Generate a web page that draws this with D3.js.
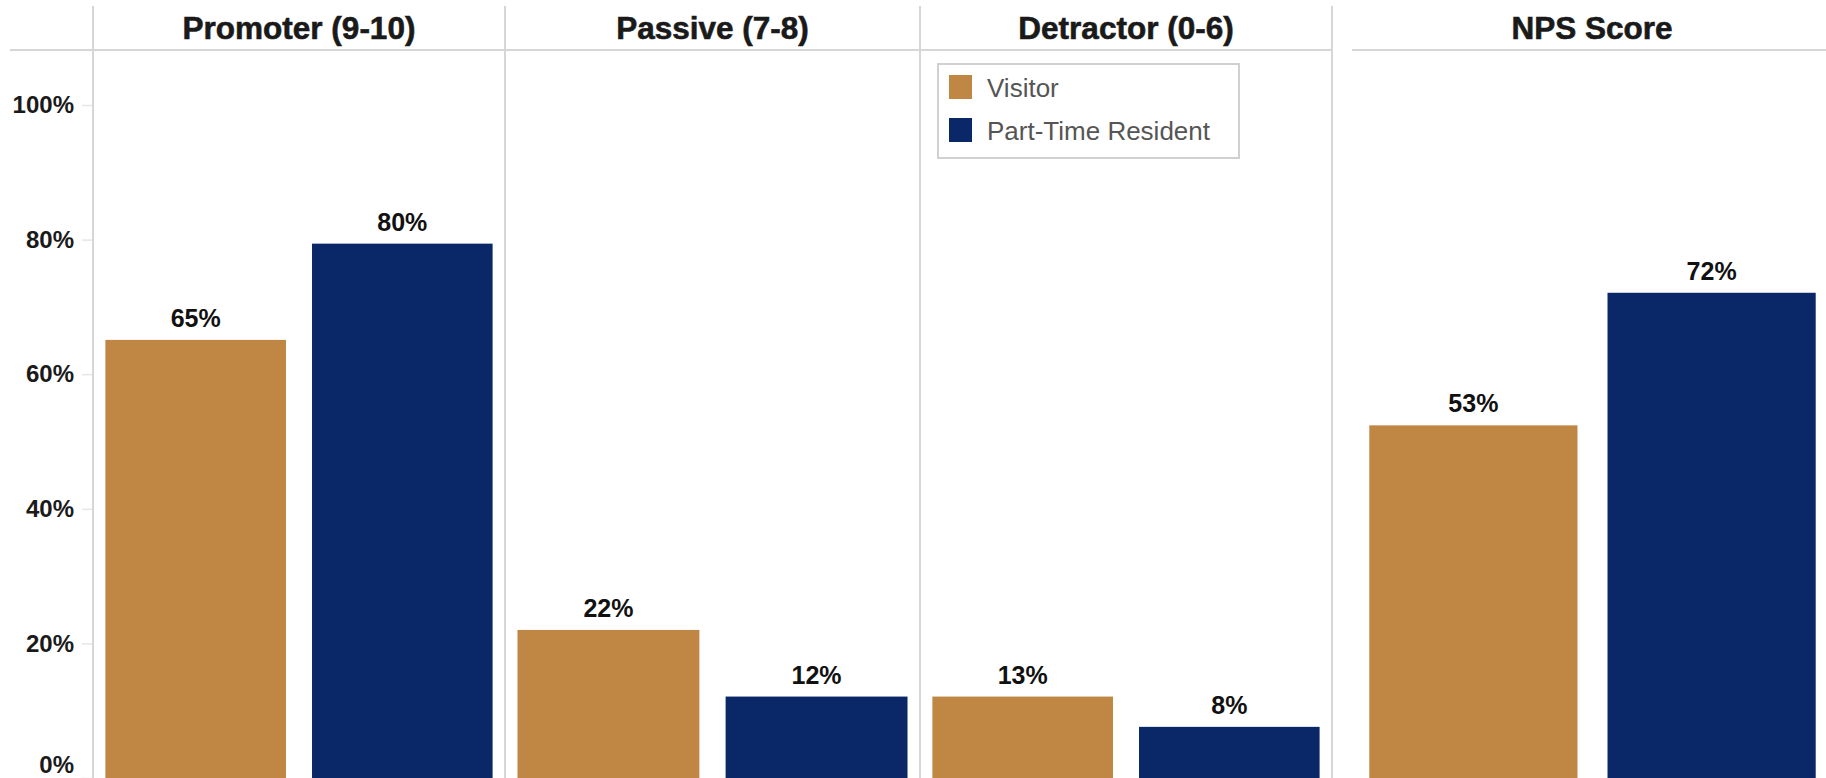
<!DOCTYPE html>
<html lang="en">
<head>
<meta charset="UTF-8">
<title>NPS by Respondent Type</title>
<script src="https://cdn.jsdelivr.net/npm/d3@7"></script>
<style>
  html, body { margin: 0; padding: 0; background: #fff; }
  svg { display: block; font-family: "Liberation Sans", Arial, sans-serif; }
</style>
</head>
<body>
<svg id="chart" width="1826" height="778"></svg>
<script>
// data
const categories = ["Promoter (9-10)", "Passive (7-8)", "Detractor (0-6)", "NPS Score"];
const groups = ["Visitor", "Part-Time Resident"];
const visitorValues = [65.1, 22.0, 12.1, 52.4];
const residentValues = [79.4, 12.1, 7.6, 72.1];
const visitorLabels = ["65%", "22%", "13%", "53%"];
const residentLabels = ["80%", "12%", "8%", "72%"];
const yTicks = [0, 20, 40, 60, 80, 100];
const yTickLabels = ["0%", "20%", "40%", "60%", "80%", "100%"];

const colors = { "Visitor": "#bf8743", "Part-Time Resident": "#0a2868" };
const gridColor = "#d6d6d6";

const svg = d3.select("#chart");
const width = +svg.attr("width");
const height = +svg.attr("height");

const headerTop = 6, headerBottom = 50;

// panel extents (last panel is a separate block with its own header rule)
const panels = [[93, 505], [505, 920], [920, 1332], [1355, 1830]];

const y = d3.scaleLinear().domain([0, 100]).range([778, 105]);

// header + panel separators
const lines = svg.append("g").attr("stroke", gridColor).attr("stroke-width", 2);
lines.append("line").attr("x1", 10).attr("x2", 1332).attr("y1", headerBottom).attr("y2", headerBottom);
lines.append("line").attr("x1", 1352).attr("x2", width).attr("y1", headerBottom).attr("y2", headerBottom);
[93, 505, 920, 1332].forEach(x => {
  lines.append("line").attr("x1", x).attr("x2", x).attr("y1", headerTop).attr("y2", height);
});

// y axis
const yAxis = d3.axisLeft(y)
  .tickValues(yTicks)
  .tickFormat((d, i) => yTickLabels[i])
  .tickSize(10)
  .tickPadding(8);

const ax = svg.append("g")
  .attr("transform", "translate(92,0)")
  .call(yAxis);
ax.select(".domain").remove();
ax.selectAll(".tick line").attr("stroke", "#e6e6e6").attr("stroke-width", 1.5);
ax.selectAll(".tick text")
  .attr("fill", "#1a1a1a")
  .attr("font-size", 24)
  .attr("font-weight", "bold")
  .attr("font-family", "Liberation Sans, Arial, sans-serif")
  .attr("dy", d => d === 0 ? "-0.22em" : "0.32em");

// panels
categories.forEach((cat, i) => {
  const [x0, x1] = panels[i];

  svg.append("text")
    .attr("x", i === 3 ? 1592 : (x0 + x1) / 2)
    .attr("y", 39)
    .attr("text-anchor", "middle")
    .attr("font-size", 31.5)
    .attr("font-weight", "bold")
    .attr("fill", "#1a1a1a")
    .attr("stroke", "#1a1a1a")
    .attr("stroke-width", 0.6)
    .text(cat);

  const x = d3.scaleBand()
    .domain(groups)
    .range([x0, x1])
    .paddingInner(0.126)
    .paddingOuter(0.06);

  const rows = [
    { g: groups[0], v: visitorValues[i], label: visitorLabels[i] },
    { g: groups[1], v: residentValues[i], label: residentLabels[i] }
  ];

  const g = svg.append("g");
  g.selectAll("rect")
    .data(rows)
    .join("rect")
    .attr("x", d => x(d.g))
    .attr("width", x.bandwidth())
    .attr("y", d => y(d.v))
    .attr("height", d => y(0) - y(d.v))
    .attr("fill", d => colors[d.g]);

  g.selectAll("text")
    .data(rows)
    .join("text")
    .attr("x", d => x(d.g) + x.bandwidth() / 2)
    .attr("y", d => y(d.v) - 13)
    .attr("text-anchor", "middle")
    .attr("font-size", 25)
    .attr("font-weight", "bold")
    .attr("fill", "#111")
    .text(d => d.label);
});

// legend
const legend = svg.append("g").attr("transform", "translate(938,64)");
legend.append("rect")
  .attr("width", 301).attr("height", 94)
  .attr("fill", "#fff")
  .attr("stroke", "#d0d0d0").attr("stroke-width", 2);
groups.forEach((grp, i) => {
  const row = legend.append("g").attr("transform", `translate(11,${11 + i * 43})`);
  row.append("rect").attr("width", 23).attr("height", 24).attr("fill", colors[grp]);
  row.append("text")
    .attr("x", 38).attr("y", 12.5).attr("dy", "0.35em")
    .attr("font-size", 26)
    .attr("fill", "#555")
    .text(grp);
});
</script>
</body>
</html>
